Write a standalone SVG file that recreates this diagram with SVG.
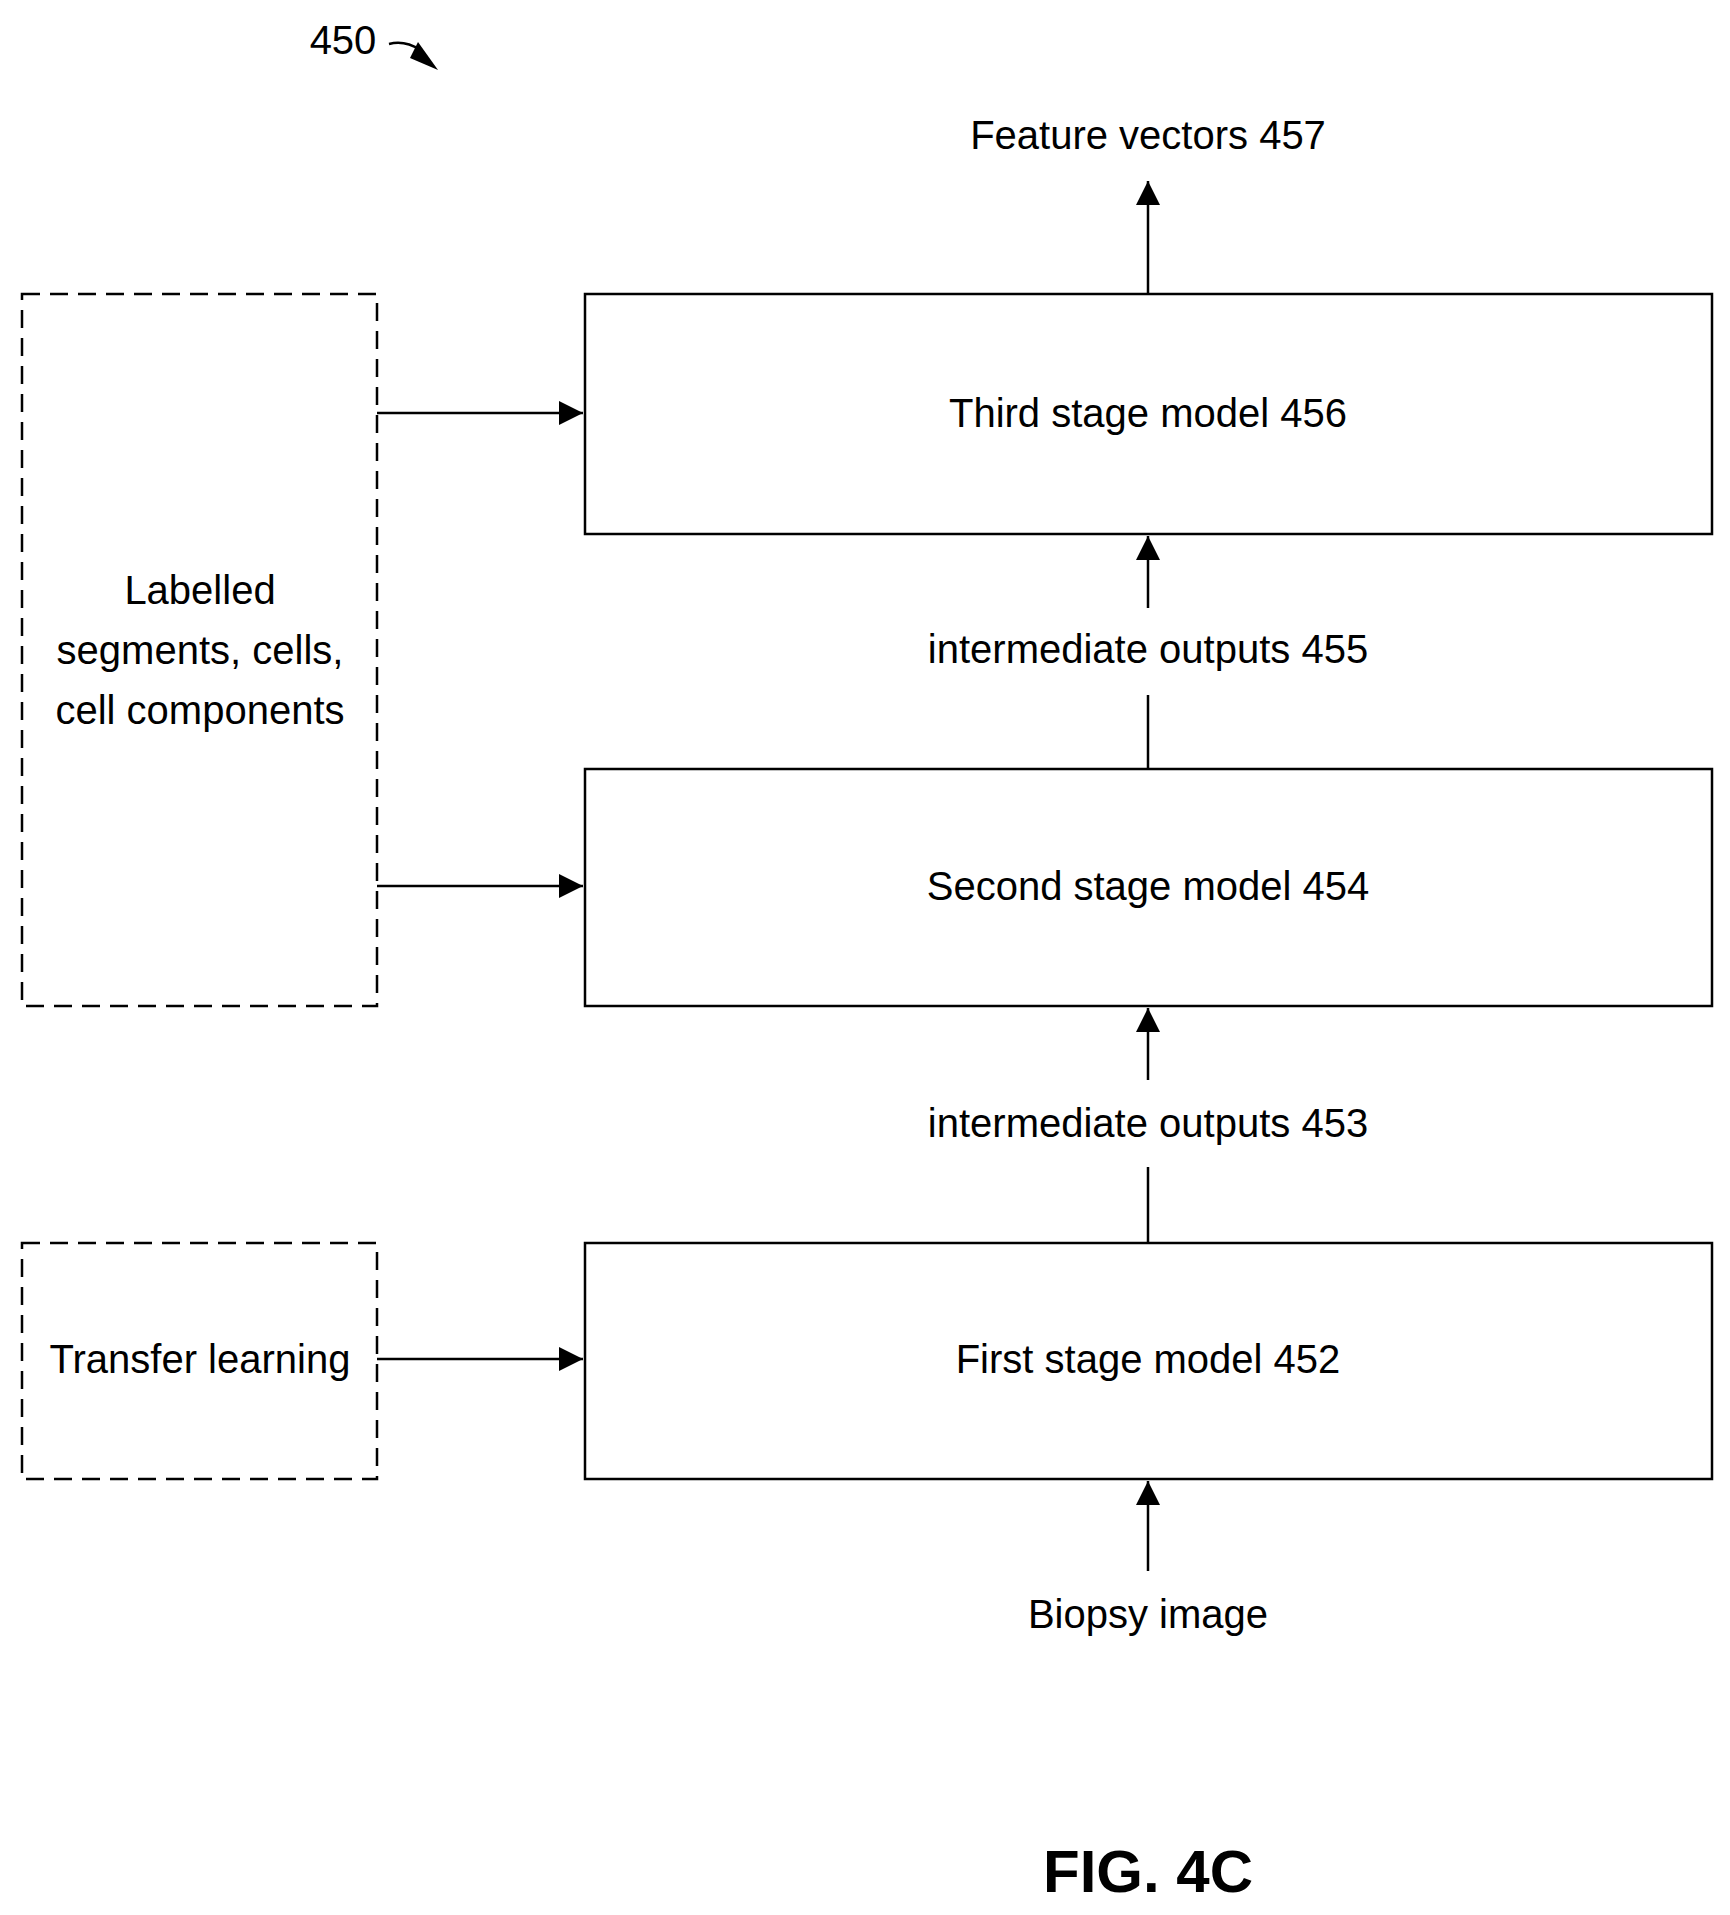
<svg xmlns="http://www.w3.org/2000/svg" width="1730" height="1915" viewBox="0 0 1730 1915">
<style>
.b{fill:none;stroke:#000;stroke-width:2.5}
.d{fill:none;stroke:#000;stroke-width:2.5;stroke-dasharray:18 10}
.l{fill:none;stroke:#000;stroke-width:2.5}
text{font-family:"Liberation Sans",Arial,sans-serif;font-size:40px;fill:#000;text-anchor:middle;dominant-baseline:central}
</style>
<defs>
<marker id="A" viewBox="0 0 10 10" refX="10" refY="5" markerWidth="28" markerHeight="24" markerUnits="userSpaceOnUse" orient="auto"><path d="M0,0 L10,5 L0,10 Z"/></marker></defs>
<rect width="1730" height="1915" fill="#fff"/>
<g id="ref450"><text x="343" y="40">450</text><path class="l" d="M389,44 Q405,40 420,50" /><path d="M418,42 L438,70 L410,58 Z"/></g>
<g id="third"><rect class="b" x="585" y="294" width="1127" height="240"/><text x="1148" y="413">Third stage model 456</text></g>
<g id="second"><rect class="b" x="585" y="769" width="1127" height="237"/><text x="1148" y="886">Second stage model 454</text></g>
<g id="first"><rect class="b" x="585" y="1243" width="1127" height="236"/><text x="1148" y="1359">First stage model 452</text></g>
<g id="labelled"><rect class="d" x="22" y="294" width="355" height="712"/><text x="200" y="590">Labelled</text><text x="200" y="650">segments, cells,</text><text x="200" y="710">cell components</text></g>
<g id="transfer"><rect class="d" x="22" y="1243" width="355" height="236"/><text x="200" y="1359">Transfer learning</text></g>
<g id="labels"><text x="1148" y="135">Feature vectors 457</text><text x="1148" y="649">intermediate outputs 455</text><text x="1148" y="1123">intermediate outputs 453</text><text x="1148" y="1614">Biopsy image</text></g>
<g id="connectors">
<line class="l" x1="1148" y1="294" x2="1148" y2="181" marker-end="url(#A)"/>
<line class="l" x1="1148" y1="608" x2="1148" y2="536" marker-end="url(#A)"/>
<line class="l" x1="1148" y1="695" x2="1148" y2="769"/>
<line class="l" x1="1148" y1="1080" x2="1148" y2="1008" marker-end="url(#A)"/>
<line class="l" x1="1148" y1="1167" x2="1148" y2="1243"/>
<line class="l" x1="1148" y1="1571" x2="1148" y2="1481" marker-end="url(#A)"/>
<line class="l" x1="377" y1="413" x2="583" y2="413" marker-end="url(#A)"/>
<line class="l" x1="377" y1="886" x2="583" y2="886" marker-end="url(#A)"/>
<line class="l" x1="377" y1="1359" x2="583" y2="1359" marker-end="url(#A)"/>
</g>
<text x="1148" y="1871" style="font-size:60px;font-weight:bold">FIG. 4C</text>
</svg>
